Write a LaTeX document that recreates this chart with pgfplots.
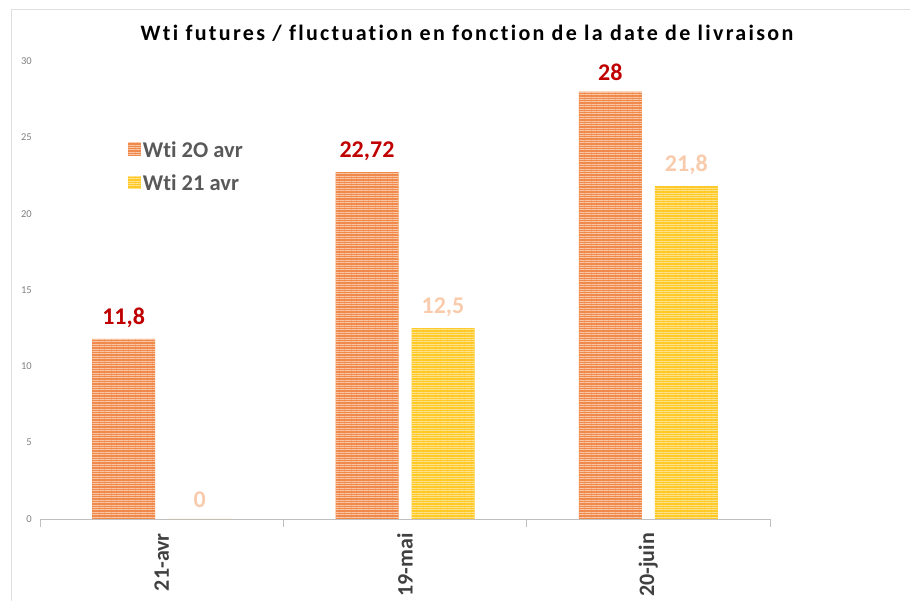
\documentclass[border=0pt]{standalone}
\usepackage{pgfplots}
\pgfplotsset{compat=1.18}
\usepackage{fontspec}
\setmainfont{Carlito}[Ligatures=NoCommon]
\newfontfamily\titlefont{Carlito}[LetterSpace=10.5, Ligatures=NoCommon]
\usetikzlibrary{patterns.meta}
\definecolor{orangebar}{HTML}{EF8A4C}
\definecolor{orangestripe}{HTML}{F8C6A4}
\definecolor{yellowbar}{HTML}{FFC928}
\definecolor{yellowstripe}{HTML}{FFE38C}
\definecolor{labelred}{HTML}{C00000}
\definecolor{labelpeach}{HTML}{F8CBAD}
\definecolor{ticklabelgray}{HTML}{808080}
\definecolor{catgray}{HTML}{404040}
\definecolor{legendgray}{HTML}{595959}
\definecolor{axisgray}{HTML}{BFBFBF}
\begin{document}
\begin{tikzpicture}
\useasboundingbox (-40pt,-82pt) rectangle (870pt,519pt);
\draw[gray!25, line width=0.8pt] (-29pt,-90pt) -- (-29pt,510pt) -- (880pt,510pt);
\node[font=\titlefont\bfseries\fontsize{22}{26}\selectfont, text=black] at (427pt,486pt) {Wti futures / fluctuation en fonction de la date de livraison};
\begin{axis}[
  at={(0pt,0pt)}, anchor=south west,
  scale only axis, width=730pt, height=458pt,
  xmin=-0.5, xmax=2.5, ymin=0, ymax=30,
  ybar=13pt, bar width=63pt,
  axis on top,
  axis lines*=left,
  x axis line style={draw=axisgray, line width=0.9pt},
  y axis line style={draw=none},
  xtick={0,1,2},
  xticklabels={21-avr,19-mai,20-juin},
  minor xtick={-0.5,0.5,1.5,2.5},
  major tick length=0pt, minor tick length=8pt,
  tick align=outside,
  minor tick style={draw=axisgray, line width=0.9pt},
  xticklabel style={rotate=90, anchor=east, inner sep=0pt, font=\bfseries\fontsize{22}{25}\selectfont, text=catgray},
  xticklabel shift=14pt,
  ytick={0,5,...,30},
  yticklabel style={font=\fontsize{10.5}{12}\selectfont, text=ticklabelgray, inner sep=0pt},
  yticklabel shift=8pt,
  /pgf/number format/.cd, use comma, assume math mode=true, 1000 sep={},
  /pgfplots/.cd,
  legend style={at={(0.116,0.834)}, anchor=north west, draw=none, fill=none,
    font=\bfseries\fontsize{22.5}{25}\selectfont, text=legendgray, row sep=12pt,
    /tikz/every even column/.append style={column sep=5pt}},
  legend cell align=left,
  legend image code/.code={\fill[#1,draw=none] (0pt,-6pt) rectangle (13pt,7pt);},
  nodes near coords,
  every node near coord/.append style={font=\bfseries\fontsize{24}{27}\selectfont, inner sep=0pt, yshift=11pt},
]
\addplot[fill=orangebar, draw=none,
  postaction={pattern={Lines[angle=0,distance=2.4pt,line width=0.7pt]}, pattern color=orangestripe},
  every node near coord/.append style={text=labelred}]
  coordinates {(0,11.8) (1,22.72) (2,28)};
\addplot[fill=yellowbar, draw=none,
  postaction={pattern={Lines[angle=0,distance=2.4pt,line width=0.7pt]}, pattern color=yellowstripe},
  every node near coord/.append style={text=labelpeach}]
  coordinates {(0,0) (1,12.5) (2,21.8)};
\legend{Wti 2O avr, Wti 21 avr}
\end{axis}
\end{tikzpicture}
\end{document}
